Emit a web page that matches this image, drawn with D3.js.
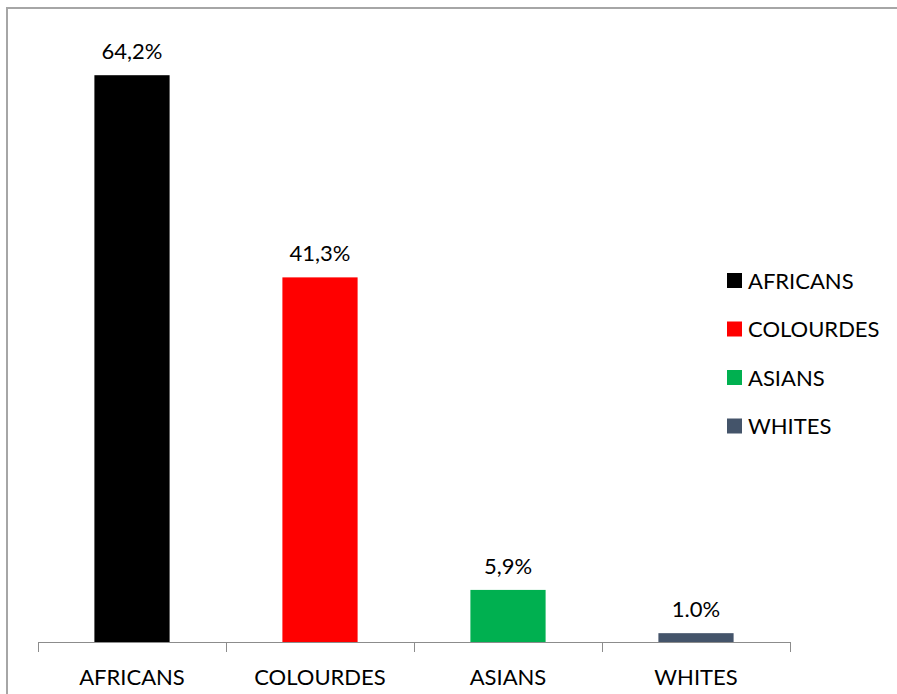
<!DOCTYPE html>
<html>
<head>
<meta charset="utf-8">
<script src="https://cdn.jsdelivr.net/npm/d3@7"></script>
<style>
  html, body { margin: 0; background: #fff; overflow: hidden; }
  svg { display: block; font-family: Lato, "Open Sans", sans-serif; }
</style>
</head>
<body>
<div id="chart"></div>
<script>
// --- Data ---
const categories = ["AFRICANS", "COLOURDES", "ASIANS", "WHITES"];
const values = [64.2, 41.3, 5.9, 1.0];
const valueLabels = ["64,2%", "41,3%", "5,9%", "1.0%"];
const colors = ["#000000", "#ff0000", "#00b050", "#44546a"];

const W = 897, H = 694;
const svg = d3.select("#chart").append("svg")
  .attr("width", W).attr("height", H);

svg.append("rect").attr("width", W).attr("height", H).attr("fill", "#fff");

// outer frame (only left & top visible in the picture)
svg.append("path")
  .attr("d", "M7,700 L7,8 L910,8")
  .attr("fill", "none")
  .attr("stroke", "#a6a6a6")
  .attr("stroke-width", 2);

// --- Scales ---
const x = d3.scaleBand()
  .domain(categories)
  .range([38, 790])
  .paddingInner(0.6)
  .paddingOuter(0.3);

const y = d3.scaleLinear()
  .domain([0, 70])
  .range([642, 24]);

// --- Bars ---
svg.selectAll("rect.bar")
  .data(categories)
  .enter().append("rect")
  .attr("class", "bar")
  .attr("x", d => x(d))
  .attr("width", x.bandwidth())
  .attr("y", (d, i) => y(values[i]))
  .attr("height", (d, i) => y(0) - y(values[i]))
  .attr("fill", (d, i) => colors[i]);

// value labels
svg.selectAll("text.val")
  .data(categories)
  .enter().append("text")
  .attr("class", "val")
  .attr("x", d => x(d) + x.bandwidth() / 2)
  .attr("y", (d, i) => y(values[i]) - 16)
  .attr("text-anchor", "middle")
  .attr("font-size", "22px")
  .attr("fill", "#000")
  .text((d, i) => valueLabels[i]);

// --- X axis with ticks between categories ---
const axis = svg.append("g");
axis.append("line")
  .attr("x1", 38).attr("x2", 790)
  .attr("y1", y(0) + 0.5).attr("y2", y(0) + 0.5)
  .attr("stroke", "#8c8c8c").attr("stroke-width", 1);

const tickPos = categories.map(d => x(d) - x.step() * x.paddingOuter())
  .concat([790]);
axis.selectAll("line.tick")
  .data(tickPos)
  .enter().append("line")
  .attr("class", "tick")
  .attr("x1", d => Math.round(d) + 0.5).attr("x2", d => Math.round(d) + 0.5)
  .attr("y1", y(0)).attr("y2", y(0) + 10)
  .attr("stroke", "#8c8c8c");

axis.selectAll("text.cat")
  .data(categories)
  .enter().append("text")
  .attr("class", "cat")
  .attr("x", d => x(d) + x.bandwidth() / 2)
  .attr("y", 685)
  .attr("text-anchor", "middle")
  .attr("font-size", "22px")
  .attr("fill", "#000")
  .text(d => d);

// --- Legend ---
const legend = svg.append("g").attr("transform", "translate(727,273)");
const rows = legend.selectAll("g")
  .data(categories)
  .enter().append("g")
  .attr("transform", (d, i) => `translate(0,${i * 48.5})`);
rows.append("rect")
  .attr("width", 15).attr("height", 15)
  .attr("fill", (d, i) => colors[i]);
rows.append("text")
  .attr("x", 21).attr("y", 15.5)
  .attr("font-size", "22px")
  .attr("fill", "#000")
  .text(d => d);
</script>
</body>
</html>
